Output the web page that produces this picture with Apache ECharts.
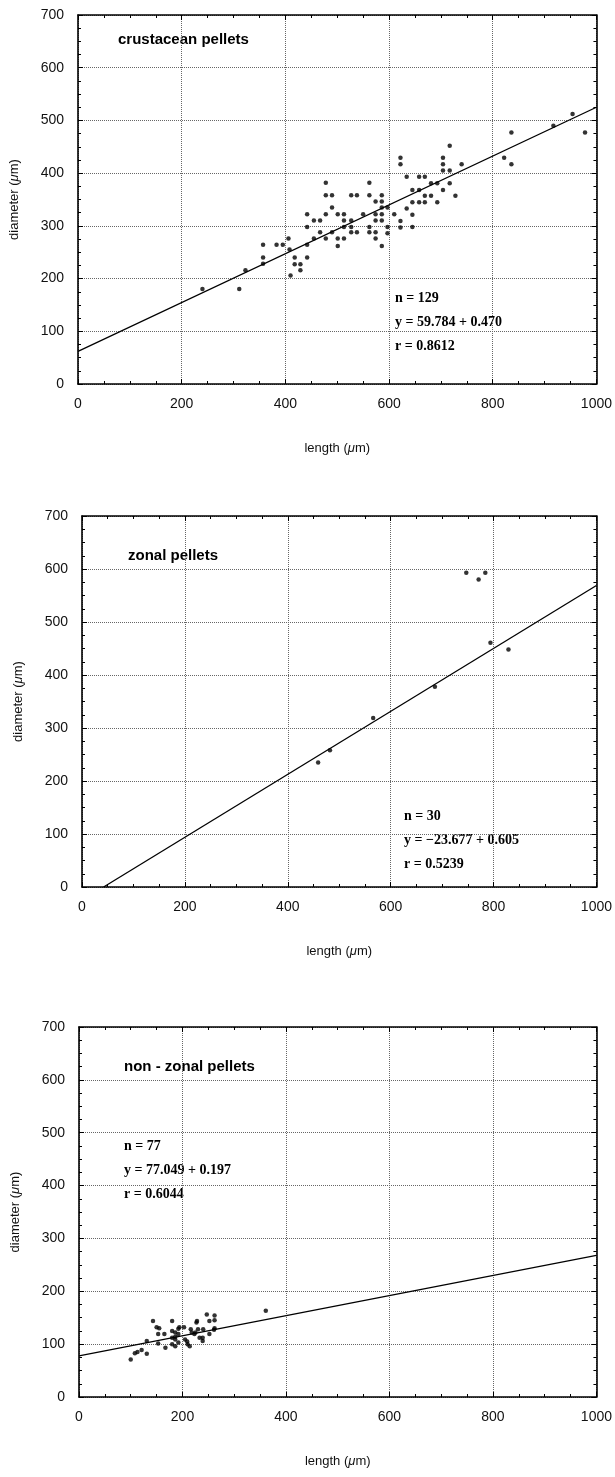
<!DOCTYPE html>
<html>
<head>
<meta charset="utf-8">
<script src="https://cdn.jsdelivr.net/npm/echarts@6/dist/echarts.min.js"></script>
<style>
  html, body { margin: 0; padding: 0; background: #fff; }
  #chart { width: 615px; height: 1477px; }
</style>
</head>
<body>
<div id="chart"></div>
<script>
// crustacean pellets: [length, diameter] in µm
const crustaceanPoints = [
  [240, 180], [311, 180], [323, 216], [357, 264], [357, 240], [357, 228], [383, 264], [395, 264],
  [406, 276], [408, 255], [410, 206], [418, 240], [418, 227], [429, 227], [429, 216], [442, 264],
  [442, 240], [442, 322], [442, 298], [455, 310], [467, 310], [455, 276], [467, 288], [478, 382],
  [478, 358], [490, 358], [478, 322], [478, 276], [490, 335], [490, 288], [501, 322], [501, 276], [501, 262],
  [513, 322], [513, 310], [513, 276], [513, 298], [527, 358], [538, 358], [527, 310], [527, 298], [527, 288],
  [538, 288], [550, 322], [562, 382], [562, 358], [562, 298], [562, 288], [574, 346], [574, 322],
  [574, 310], [574, 288], [574, 276], [586, 358], [586, 346], [586, 335], [586, 322], [586, 310],
  [586, 262], [597, 335], [597, 298], [597, 286], [610, 322], [622, 429], [622, 417], [622, 309],
  [622, 297], [634, 393], [634, 333], [645, 368], [645, 345], [645, 321], [645, 298], [658, 393],
  [658, 368], [658, 345], [669, 393], [669, 357], [669, 345], [681, 381], [681, 357], [693, 381],
  [693, 345], [704, 429], [704, 417], [704, 405], [704, 368], [717, 452], [717, 405], [717, 381],
  [728, 357], [740, 417], [822, 429], [836, 477], [836, 417], [917, 490], [954, 512], [978, 477]
];
const crustaceanFit = [[0, 62], [1000, 525]];

// zonal pellets
const zonalPoints = [
  [459, 235], [482, 258], [566, 319], [686, 378], [747, 593], [771, 580], [784, 593], [794, 461], [829, 448]
];
const zonalFit = [[42, 0], [1000, 569]];

// non-zonal pellets
const nonZonalPoints = [
  [100, 71], [108, 83], [113, 85], [121, 89], [131, 82], [131, 106], [143, 144], [150, 132], [155, 130],
  [153, 119], [153, 101], [165, 119], [167, 93], [180, 144], [180, 125], [180, 112], [180, 100],
  [186, 122], [186, 109], [186, 96], [186, 114], [192, 119], [192, 103], [194, 132], [192, 129],
  [203, 132], [205, 109], [210, 100], [214, 96], [216, 128], [218, 122], [223, 119], [225, 122],
  [228, 144], [230, 128], [233, 112], [239, 106], [240, 128], [247, 156], [252, 144], [252, 119],
  [262, 154], [262, 145], [262, 130], [261, 127], [227, 141], [239, 112], [209, 105], [361, 163]
];
const nonZonalFit = [[0, 78], [1000, 268]];

const panelTitles = ['crustacean pellets', 'zonal pellets', 'non - zonal pellets'];
const panelStats = [
  ['n = 129', 'y = 59.784 + 0.470', 'r = 0.8612'],
  ['n = 30', 'y = \u221223.677 + 0.605', 'r = 0.5239'],
  ['n = 77', 'y = 77.049 + 0.197', 'r = 0.6044']
];

const grids = [
  { left: 77, top: 15, width: 520, height: 369 },
  { left: 82, top: 516, width: 516, height: 371 },
  { left: 79, top: 1027, width: 519, height: 370 }
];

const sans = 'Liberation Sans, Arial, sans-serif';
const serif = 'Liberation Serif, Times New Roman, serif';

const border = { show: true, onZero: false, lineStyle: { color: '#000', width: 1.6 } };
const grid_line = { show: true, lineStyle: { type: 'dotted', color: '#666', width: 1 } };
const unitRich = {
  i: { fontStyle: 'italic', fontSize: 13, fontFamily: sans, color: '#111' }
};
const plain = (v) => String(v);

const xAxes = [];
const yAxes = [];
grids.forEach((g, i) => {
  xAxes.push({
    type: 'value', gridIndex: i, min: 0, max: 1000, interval: 200,
    name: 'length ({i|\u03bc}m)', nameLocation: 'middle', nameGap: 58,
    nameTextStyle: { fontFamily: sans, fontSize: 13, color: '#111', rich: unitRich },
    axisLine: border,
    axisTick: { show: true, inside: true, length: 5, lineStyle: { color: '#000' } },
    minorTick: { show: true, splitNumber: 4, length: 3, lineStyle: { color: '#000' } },
    axisLabel: { fontFamily: sans, fontSize: 14, color: '#111', margin: 13, formatter: plain },
    splitLine: grid_line
  });
  xAxes.push({
    type: 'value', gridIndex: i, position: 'top', min: 0, max: 1000, interval: 200,
    axisLine: border,
    axisTick: { show: true, inside: true, length: 5, lineStyle: { color: '#000' } },
    minorTick: { show: true, splitNumber: 4, length: 3, lineStyle: { color: '#000' } },
    axisLabel: { show: false },
    splitLine: { show: false }
  });
  yAxes.push({
    type: 'value', gridIndex: i, min: 0, max: 700, interval: 100,
    name: 'diameter ({i|\u03bc}m)', nameLocation: 'middle', nameGap: 57, nameRotate: 90,
    nameTextStyle: { fontFamily: sans, fontSize: 13, color: '#111', rich: unitRich },
    axisLine: border,
    axisTick: { show: true, inside: true, length: 5, lineStyle: { color: '#000' } },
    minorTick: { show: true, splitNumber: 4, length: 3, lineStyle: { color: '#000' } },
    axisLabel: { fontFamily: sans, fontSize: 14, color: '#111', margin: 14, formatter: plain },
    splitLine: grid_line
  });
  yAxes.push({
    type: 'value', gridIndex: i, position: 'right', min: 0, max: 700, interval: 100,
    axisLine: border,
    axisTick: { show: true, inside: true, length: 5, lineStyle: { color: '#000' } },
    minorTick: { show: true, splitNumber: 4, length: 3, lineStyle: { color: '#000' } },
    axisLabel: { show: false },
    splitLine: { show: false }
  });
});

const pointSets = [crustaceanPoints, zonalPoints, nonZonalPoints];
const fitSets = [crustaceanFit, zonalFit, nonZonalFit];
const series = [];
pointSets.forEach((pts, i) => {
  series.push({
    type: 'scatter', xAxisIndex: i * 2, yAxisIndex: i * 2,
    data: pts, symbol: 'circle', symbolSize: 4.5,
    itemStyle: { color: '#000' }, silent: true
  });
  series.push({
    type: 'line', xAxisIndex: i * 2, yAxisIndex: i * 2,
    data: fitSets[i], showSymbol: false,
    lineStyle: { color: '#000', width: 1.3 }, silent: true
  });
});

// panel captions and regression text
const titlePos = [[118, 40], [128, 556], [124, 1067]];
const statPos = [[395, 298], [404, 816], [124, 1146]];
const graphic = [];
panelTitles.forEach((t, i) => {
  graphic.push({
    type: 'text', x: titlePos[i][0], y: titlePos[i][1],
    style: { text: t, fontFamily: sans, fontWeight: 'bold', fontSize: 15, fill: '#000', verticalAlign: 'middle' }
  });
  panelStats[i].forEach((s, k) => {
    graphic.push({
      type: 'text', x: statPos[i][0], y: statPos[i][1] + k * 24,
      style: { text: s, fontFamily: serif, fontWeight: 'bold', fontSize: 14, fill: '#000', verticalAlign: 'middle' }
    });
  });
});

const chart = echarts.init(document.getElementById('chart'), null, { renderer: 'canvas' });
chart.setOption({
  animation: false,
  backgroundColor: '#fff',
  grid: grids,
  xAxis: xAxes,
  yAxis: yAxes,
  series: series,
  graphic: graphic
});
</script>
</body>
</html>
